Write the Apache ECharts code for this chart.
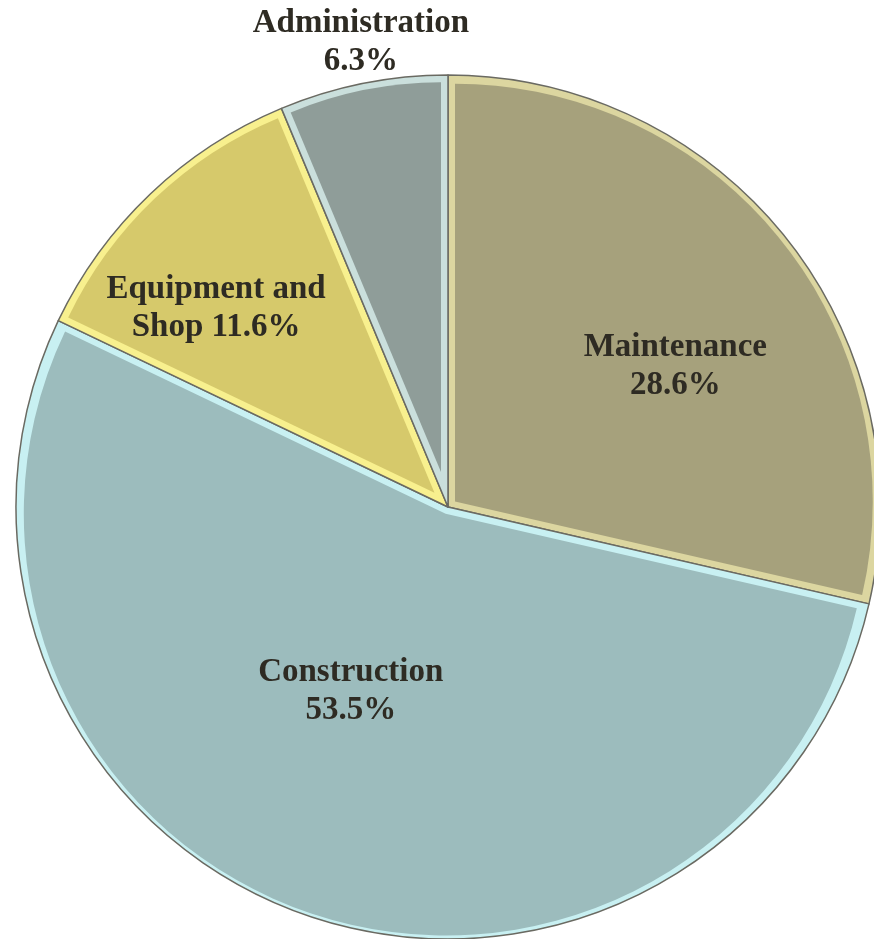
<!DOCTYPE html>
<html>
<head>
<meta charset="utf-8">
<script src="https://cdn.jsdelivr.net/npm/echarts@6/dist/echarts.min.js"></script>
<style>
  html, body { margin: 0; padding: 0; background: #ffffff; }
  #chart { width: 874px; height: 939px; }
</style>
</head>
<body>
<div id="chart"></div>
<script>
// Budget share by activity (percent of total)
const categories = ['Maintenance', 'Construction', 'Equipment and Shop', 'Administration'];
const shares = [28.6, 53.5, 11.6, 6.3];

// Slice body colours and the lighter bevel tone along each slice's rim
const fillColors = ['#a6a17c', '#9cbcbd', '#d6c96b', '#8f9d99'];
const edgeColors = ['#dcd6a0', '#c8f0f2', '#f8f08e', '#cadfdc'];

// Label nudges from the default inside position, per slice
const labelShift = [
  { dx: 56, dy: -4 },
  { dx: -25, dy: -22 },
  { dx: -81, dy: -40 },
  { dx: -44, dy: -250 }
];

const CENTER = [448, 507];
const RADIUS = 432;
const BEVEL = 7;

const chart = echarts.init(document.getElementById('chart'), null, { renderer: 'canvas' });

const total = shares.reduce((a, b) => a + b, 0);

function labelText(name, value) {
  if (name === 'Equipment and Shop') return 'Equipment and\nShop ' + value.toFixed(1) + '%';
  return name + '\n' + value.toFixed(1) + '%';
}

// Base layer: the full slices in the bevel tone, with a thin dark outline
const baseSeries = {
  type: 'pie',
  center: CENTER,
  radius: RADIUS,
  startAngle: 90,
  clockwise: true,
  silent: true,
  animation: false,
  z: 1,
  label: { show: false },
  labelLine: { show: false },
  data: categories.map((c, i) => ({
    name: c,
    value: shares[i],
    itemStyle: { color: edgeColors[i], borderColor: '#6a6a62', borderWidth: 1.5 }
  }))
};

// One inset layer per slice: the body colour, pulled inward on every side
let cum = 0;
const insetSeries = categories.map((c, i) => {
  const theta = shares[i] / total * Math.PI * 2;
  const mid = (cum + shares[i] / 2) / total * Math.PI * 2;
  cum += shares[i];
  const half = theta / 2;
  const s = BEVEL / Math.sin(half);
  const alongBisector = RADIUS - s;
  const atEdge = Math.sqrt(RADIUS * RADIUS + s * s - 2 * RADIUS * s * Math.cos(half));
  const r = (alongBisector + atEdge) / 2 - BEVEL;
  return {
    type: 'pie',
    center: [CENTER[0] + s * Math.sin(mid), CENTER[1] - s * Math.cos(mid)],
    radius: r,
    startAngle: 90,
    clockwise: true,
    silent: true,
    animation: false,
    z: 2,
    label: { show: false },
    labelLine: { show: false },
    data: categories.map((cc, j) => ({
      name: cc,
      value: shares[j],
      itemStyle: j === i
        ? { color: fillColors[j], borderWidth: 0 }
        : { color: 'rgba(0,0,0,0)', borderWidth: 0 }
    }))
  };
});

// Label layer on top
const labelSeries = {
  type: 'pie',
  center: CENTER,
  radius: RADIUS,
  startAngle: 90,
  clockwise: true,
  silent: true,
  animation: false,
  avoidLabelOverlap: false,
  z: 3,
  itemStyle: { color: 'rgba(0,0,0,0)', borderWidth: 0 },
  label: {
    show: true,
    position: 'inside',
    formatter: p => labelText(p.name, p.value),
    fontFamily: '"Liberation Serif", "DejaVu Serif", serif',
    fontWeight: 'bold',
    fontSize: 33,
    lineHeight: 38,
    color: '#2e2b23',
    align: 'center'
  },
  labelLine: { show: false },
  labelLayout: p => labelShift[p.dataIndex],
  data: categories.map((c, i) => ({ name: c, value: shares[i] }))
};

chart.setOption({
  backgroundColor: '#ffffff',
  animation: false,
  series: [baseSeries, ...insetSeries, labelSeries]
});
</script>
</body>
</html>
